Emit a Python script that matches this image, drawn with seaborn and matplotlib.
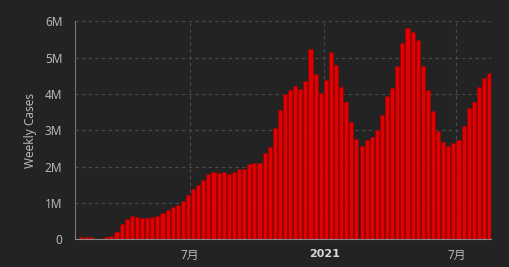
import numpy as np
import pandas as pd
import matplotlib
matplotlib.use("Agg")
import matplotlib.pyplot as plt
import matplotlib.dates as mdates
import seaborn as sns

# ---- data ----
start_week = "2020-02-02"
weekly_cases_m = [
    0.06, 0.06, 0.06, 0.005, 0.005, 0.06, 0.10, 0.21, 0.43, 0.57,
    0.64, 0.61, 0.59, 0.59, 0.62, 0.65, 0.73, 0.81, 0.89, 0.95,
    1.06, 1.22, 1.39, 1.50, 1.63, 1.80, 1.85, 1.83, 1.85, 1.80,
    1.85, 1.94, 1.94, 2.07, 2.10, 2.10, 2.38, 2.55, 3.05, 3.56,
    3.99, 4.11, 4.22, 4.14, 4.37, 5.24, 4.55, 4.03, 4.39, 5.16,
    4.80, 4.19, 3.78, 3.23, 2.76, 2.57, 2.73, 2.82, 3.01, 3.42,
    3.94, 4.17, 4.77, 5.40, 5.82, 5.71, 5.49, 4.77, 4.11, 3.53,
    2.98, 2.68, 2.57, 2.65, 2.73, 3.12, 3.61, 3.78, 4.19, 4.44,
    4.58,
]
ytick_vals_m = [0, 1, 2, 3, 4, 5, 6]
ytick_labels = ["0", "1M", "2M", "3M", "4M", "5M", "6M"]
xtick_dates = ["2020-07-01", "2021-01-01", "2021-07-01"]
xtick_labels = ["7月", "2021", "7月"]
y_label = "Weekly Cases"

weeks = pd.date_range(start_week, periods=len(weekly_cases_m), freq="7D")
df = pd.DataFrame({
    "x": mdates.date2num(weeks.to_pydatetime()),
    "cases": np.array(weekly_cases_m) * 1e6,
})

# ---- style ----
bg = "#232323"
sns.set_theme(style="dark")
plt.rcParams["font.family"] = ["Noto Sans", "Noto Sans CJK SC", "DejaVu Sans"]

fig = plt.figure(figsize=(5.10, 2.67), dpi=100, facecolor=bg)
ax = fig.add_axes([0.147, 0.104, 0.815, 0.816])
ax.set_facecolor(bg)

sns.barplot(data=df, x="x", y="cases", native_scale=True, width=0.8,
            color="#e40000", saturation=1, edgecolor="#9a0000",
            linewidth=0.4, ax=ax, zorder=2)

ax.set_xlim(mdates.date2num(pd.Timestamp("2020-01-25")),
            mdates.date2num(pd.Timestamp("2021-08-17")))
ax.set_ylim(0, 6e6)

ax.set_yticks([v * 1e6 for v in ytick_vals_m])
ax.set_yticklabels(ytick_labels)
xt = mdates.date2num(pd.to_datetime(xtick_dates).to_pydatetime())
ax.set_xticks(xt)
ax.set_xticklabels(xtick_labels)

ax.tick_params(axis="both", colors="#b8b8b8", labelsize=8.5)
ax.tick_params(axis="y", length=6, width=0.8, color="#777777", pad=3)
ax.tick_params(axis="x", length=3, width=0.8, color="#777777", pad=4)
for lbl in ax.get_xticklabels():
    if lbl.get_text() == "2021":
        lbl.set_family(["DejaVu Sans"])
        lbl.set_fontweight("bold")
        lbl.set_fontsize(8)
        lbl.set_color("#d8d8d8")
    else:
        lbl.set_color("#b8b8b8")

ax.grid(True, axis="both", color="#4a4a4a", linestyle=(0, (3, 3)),
        linewidth=0.8, zorder=0)
ax.set_axisbelow(True)

for side in ["top", "right"]:
    ax.spines[side].set_visible(False)
ax.spines["left"].set_color("#777777")
ax.spines["left"].set_linewidth(0.8)
ax.spines["bottom"].set_color("#8a8a8a")
ax.spines["bottom"].set_linewidth(0.8)
ax.spines["bottom"].set_zorder(3)

ax.set_xlabel("")
ax.set_ylabel(y_label, color="#b8b8b8", fontsize=8.5, labelpad=6)

fig.savefig("out.png", dpi=100, facecolor=bg)
